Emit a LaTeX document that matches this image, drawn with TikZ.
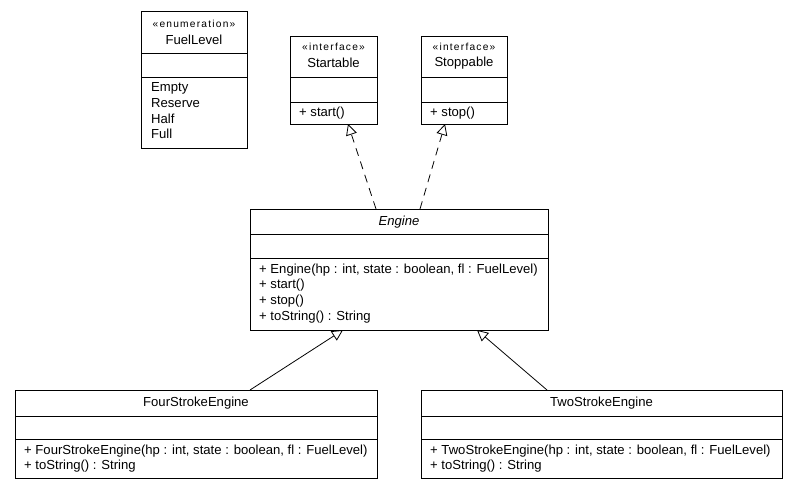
\documentclass[tikz,border=0pt]{standalone}
\usepackage{fontspec}
\setmainfont{Liberation Sans}
\newfontfamily\stereofont[LetterSpace=12]{Liberation Sans}
\usetikzlibrary{arrows.meta,calc}
\tikzset{
  cls/.style={draw, line width=0.9pt, anchor=north west, inner sep=0pt, outer sep=0pt},
  divl/.style={line width=0.9pt},
  txt/.style={font=\fontsize{13.1}{15}\selectfont, inner sep=0pt, anchor=west},
  ctxt/.style={font=\fontsize{13.1}{15}\selectfont, inner sep=0pt},
  stereo/.style={font=\stereofont\fontsize{10.2}{12}\selectfont, inner sep=0pt},
  real/.style={line width=0.8pt, -{Triangle[open, length=11pt, width=11pt]}},
  impl/.style={line width=0.8pt, dash pattern=on 8pt off 6pt, -{Triangle[open, length=11pt, width=11pt, line width=0.8pt]}}
}
\begin{document}
\begin{tikzpicture}[x=1pt,y=-1pt]
\useasboundingbox[fill=white] (0,0) rectangle (797,491);
% FuelLevel
\node[cls, minimum width=106pt, minimum height=137pt] (fuel) at (141,11) {};
\draw[divl] (141,53) -- (247,53);
\draw[divl] (141,77) -- (247,77);
\node[stereo] (fuelst) at (194,24) {«enumeration»};
\node[ctxt] (fuelnm) at (194,40) {FuelLevel};
\node[txt] (fe1) at (151,88) {Empty};
\node[txt] (fe2) at (151,103) {Reserve};
\node[txt] (fe3) at (151,119) {Half};
\node[txt] (fe4) at (151,134) {Full};
% Startable
\node[cls, minimum width=87pt, minimum height=88pt] (start) at (290,36) {};
\draw[divl] (290,77) -- (377,77);
\draw[divl] (290,102) -- (377,102);
\node[stereo] (startst) at (333.5,47) {«interface»};
\node[ctxt] (startnm) at (333.5,63) {Startable};
\node[txt] (startm) at (299,113) {+ start()};
% Stoppable
\node[cls, minimum width=86pt, minimum height=88pt] (stop) at (421,36) {};
\draw[divl] (421,77) -- (507,77);
\draw[divl] (421,102) -- (507,102);
\node[stereo] (stopst) at (464,47) {«interface»};
\node[ctxt] (stopnm) at (464,63) {Stoppable};
\node[txt] (stopm) at (430,113) {+ stop()};
% Engine
\node[cls, minimum width=298pt, minimum height=121pt] (eng) at (250,209) {};
\draw[divl] (250,234) -- (548,234);
\draw[divl] (250,258) -- (548,258);
\node[ctxt, font=\fontsize{13.1}{15}\selectfont\itshape] (engnm) at (399,222) {Engine};
\node[txt] (em1) at (259,270) {+ Engine(hp : int, state : boolean, fl : FuelLevel)};
\node[txt] (em2) at (259,285) {+ start()};
\node[txt] (em3) at (259,301) {+ stop()};
\node[txt] (em4) at (259,317) {+ toString() : String};
% FourStrokeEngine
\node[cls, minimum width=362pt, minimum height=88pt] (four) at (15,390) {};
\draw[divl] (15,416) -- (377,416);
\draw[divl] (15,439) -- (377,439);
\node[ctxt] (fournm) at (196,403) {FourStrokeEngine};
\node[txt] (fm1) at (24,451) {+ FourStrokeEngine(hp : int, state : boolean, fl : FuelLevel)};
\node[txt] (fm2) at (24,466) {+ toString() : String};
% TwoStrokeEngine
\node[cls, minimum width=361pt, minimum height=88pt] (two) at (421,390) {};
\draw[divl] (421,416) -- (782,416);
\draw[divl] (421,439) -- (782,439);
\node[ctxt] (twonm) at (601.5,403) {TwoStrokeEngine};
\node[txt] (tm1) at (430,451) {+ TwoStrokeEngine(hp : int, state : boolean, fl : FuelLevel)};
\node[txt] (tm2) at (430,466) {+ toString() : String};
% connectors
\draw[impl] ($(eng.north west)+(126,0)$) -- ($(start.south west)+(58,0)$);
\draw[impl] ($(eng.north west)+(170,0)$) -- ($(stop.south west)+(24,0)$);
\draw[real] ($(four.north west)+(235,0)$) -- ($(eng.south west)+(93,0)$);
\draw[real] ($(two.north west)+(126,0)$) -- ($(eng.south west)+(227,0)$);
\end{tikzpicture}
\end{document}
